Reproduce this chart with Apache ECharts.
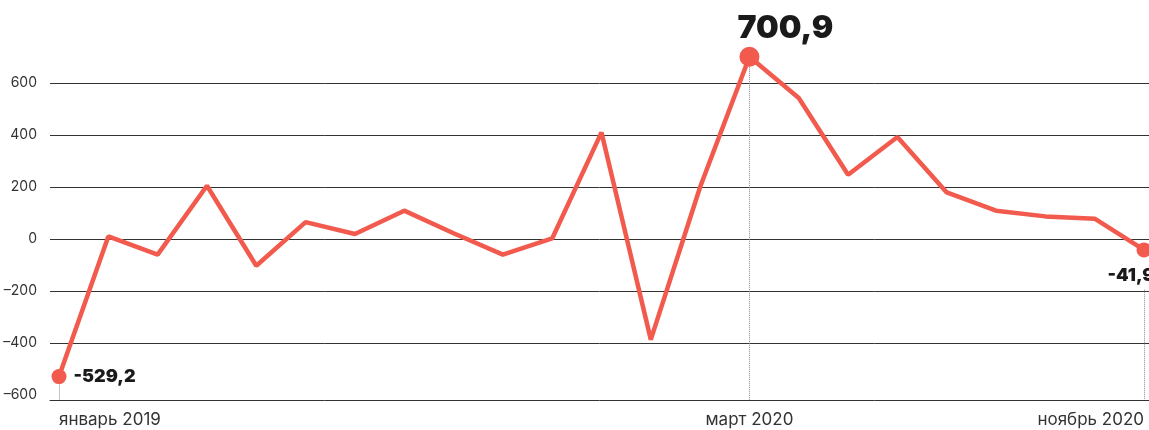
<!DOCTYPE html>
<html>
<head>
<meta charset="utf-8">
<style>
  html, body { margin: 0; padding: 0; background: #fff; }
  #main { width: 1149px; height: 430px; }
</style>
<script src="https://cdn.jsdelivr.net/npm/echarts@6/dist/echarts.min.js"></script>
</head>
<body>
<div id="main"></div>
<script>
// месяцы
var months = [
  'январь 2019', 'февраль 2019', 'март 2019', 'апрель 2019', 'май 2019', 'июнь 2019',
  'июль 2019', 'август 2019', 'сентябрь 2019', 'октябрь 2019', 'ноябрь 2019', 'декабрь 2019',
  'январь 2020', 'февраль 2020', 'март 2020', 'апрель 2020', 'май 2020', 'июнь 2020',
  'июль 2020', 'август 2020', 'сентябрь 2020', 'октябрь 2020', 'ноябрь 2020'
]
var values = [
  -529.2, 10, -60, 205, -103, 65, 19, 109, 22, -60, 2, 410,
  -387, 200, 700.9, 542, 247, 392, 179, 109, 87, 78, -41.9
]
var yTicks = [-600, -400, -200, 0, 200, 400, 600]
var shownLabels = [0, 14, 22]

var red = '#f15a4c'
var font = 'Inter'

function fmt(v) {
  return String(v).replace('.', ',')
}

var labelStyles = {
  0: { show: true, position: 'right', distance: 7, fontSize: 18 },
  14: { show: true, position: 'top', distance: 2, offset: [36, 0], fontSize: 32 },
  22: { show: true, position: 'bottom', distance: 9, offset: [-13, 0], fontSize: 18 }
}

var seriesData = values.map(function (v, i) {
  var item = { value: v }
  if (labelStyles[i]) {
    item.symbol = 'circle'
    item.symbolSize = i === 14 ? 20 : 15
    item.label = Object.assign({
      formatter: function (p) { return fmt(p.value) },
      color: '#1a1a1a',
      fontWeight: 900,
      fontFamily: font
    }, labelStyles[i])
  } else {
    item.symbol = 'none'
  }
  return item
})

// нижняя граница оси (линия оси чуть ниже -600)
var lowEnd = -618
var dotted = { type: 'dotted', color: '#8a8a8a', width: 1 }

var myChart = echarts.init(document.getElementById('main'))
myChart.setOption({
  animation: false,
  grid: [
    { left: 50, right: 0, top: 31, bottom: 35 },
    { left: 59, right: 5, top: 31, bottom: 30.32 }
  ],
  xAxis: [{
    // линия оси X на всю ширину
    gridIndex: 0,
    type: 'value',
    position: 'bottom',
    min: 0,
    max: 1,
    offset: 5,
    axisLine: { show: true, onZero: false, lineStyle: { color: '#333', width: 1 } },
    axisTick: { show: false },
    axisLabel: { show: false },
    splitLine: { show: false }
  }, {
    gridIndex: 1,
    type: 'category',
    position: 'bottom',
    boundaryGap: false,
    data: months,
    axisLine: { show: false, onZero: false },
    axisTick: { show: false },
    splitLine: { show: false },
    axisLabel: {
      interval: function (index) { return shownLabels.indexOf(index) >= 0 },
      alignMinLabel: 'left',
      alignMaxLabel: 'right',
      margin: 12,
      color: '#333',
      fontSize: 17,
      fontFamily: font
    }
  }],
  yAxis: [{
    gridIndex: 0,
    type: 'value',
    min: yTicks[0],
    max: 800,
    interval: 200,
    axisLine: { show: false },
    axisTick: { show: false },
    axisLabel: {
      showMaxLabel: false,
      margin: 13,
      color: '#333',
      fontSize: 14,
      fontFamily: font,
      formatter: function (v) { return v < 0 ? '–' + Math.abs(v) : String(v) }
    },
    splitLine: {
      show: true,
      showMinLine: false,
      showMaxLine: false,
      lineStyle: { color: '#333', width: 1 }
    }
  }, {
    gridIndex: 1,
    type: 'value',
    min: lowEnd,
    max: 800,
    show: false,
    splitLine: { show: false }
  }],
  series: [{
    type: 'line',
    xAxisIndex: 1,
    yAxisIndex: 1,
    clip: false,
    data: seriesData,
    lineStyle: { color: red, width: 4.5 },
    itemStyle: { color: red },
    z: 5,
    markLine: {
      silent: true,
      symbol: 'none',
      label: { show: false },
      lineStyle: dotted,
      data: [
        [{ coord: [0, values[0]] }, { coord: [0, lowEnd] }],
        [{ coord: [14, values[14]] }, { coord: [14, lowEnd] }],
        [{ coord: [22, -195] }, { coord: [22, lowEnd] }]
      ]
    }
  }]
})
</script>
</body>
</html>
